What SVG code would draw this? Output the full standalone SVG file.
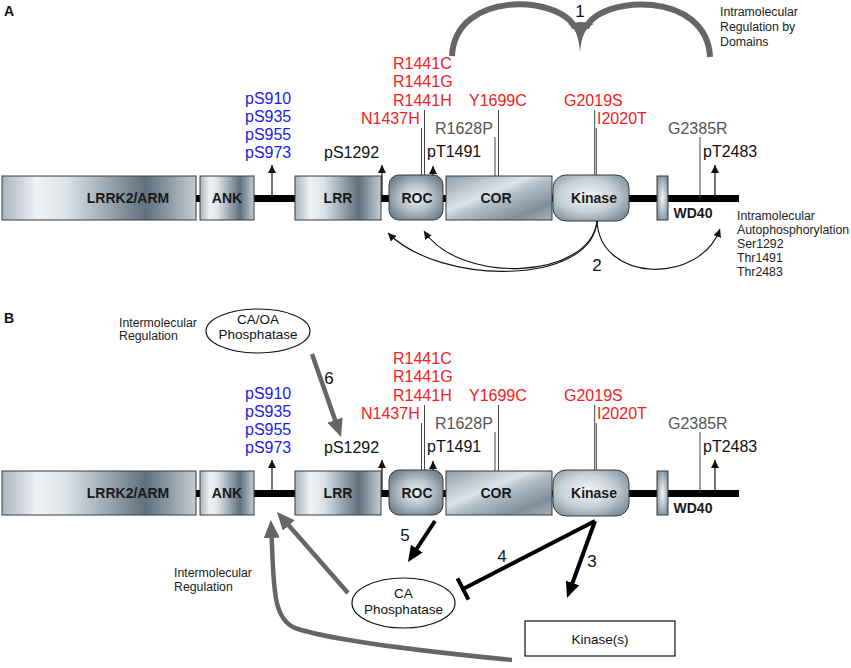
<svg xmlns="http://www.w3.org/2000/svg" width="851" height="668" viewBox="0 0 851 668">
<defs>
<linearGradient id="gH" x1="0" y1="0" x2="1" y2="0">
<stop offset="0" stop-color="#a9b5bf"/><stop offset="0.18" stop-color="#eef2f5"/><stop offset="0.33" stop-color="#dce3e8"/><stop offset="0.74" stop-color="#5f707e"/><stop offset="1" stop-color="#c3ccd3"/>
</linearGradient>
<linearGradient id="gD" x1="0" y1="0" x2="1" y2="1">
<stop offset="0" stop-color="#8e9daa"/><stop offset="0.4" stop-color="#dde4e8"/><stop offset="0.5" stop-color="#b8c3cb"/><stop offset="0.8" stop-color="#7e8e9b"/><stop offset="1" stop-color="#a7b3bc"/>
</linearGradient>
<radialGradient id="gR" cx="0.5" cy="0.5" r="0.6">
<stop offset="0" stop-color="#eef2f4"/><stop offset="0.5" stop-color="#b5c0c8"/><stop offset="1" stop-color="#6d7e8b"/>
</radialGradient>
<radialGradient id="gK" cx="0.45" cy="0.45" r="0.65">
<stop offset="0" stop-color="#f3f6f8"/><stop offset="0.55" stop-color="#c7d0d6"/><stop offset="1" stop-color="#7f8f9c"/>
</radialGradient>
<radialGradient id="gW" cx="0.5" cy="0.5" r="0.6">
<stop offset="0" stop-color="#f5f7f9"/><stop offset="1" stop-color="#7c8d9a"/>
</radialGradient>
<marker id="tri" markerUnits="userSpaceOnUse" markerWidth="8" markerHeight="8" refX="8" refY="4" orient="auto"><path d="M0,0 L8,4 L0,8 z" fill="#111"/></marker>
<marker id="bh" markerUnits="userSpaceOnUse" markerWidth="16" markerHeight="14" refX="4" refY="7" orient="auto"><path d="M0,0 L16,7 L0,14 z" fill="#000"/></marker>
<marker id="gh" markerUnits="userSpaceOnUse" markerWidth="18" markerHeight="16" refX="4" refY="8" orient="auto"><path d="M0,0 L18,8 L0,16 z" fill="#666"/></marker>
</defs>
<style>
.dom{stroke:#3a3a3a;stroke-width:1}
.dt{font-family:"Liberation Sans",Arial,sans-serif;font-weight:bold;font-size:14px;fill:#1a1a1a;text-anchor:middle}
.lb{font-family:"Liberation Sans",Arial,sans-serif;font-size:16px}
.blue{fill:#2020ee}.red{fill:#f52020}.gray{fill:#555}.blk{fill:#111}
.sm{font-family:"Liberation Sans",Arial,sans-serif;font-size:12.3px;fill:#222}
.num{font-family:"Liberation Sans",Arial,sans-serif;font-size:17px;fill:#111;text-anchor:middle}
.pl{font-family:"Liberation Sans",Arial,sans-serif;font-weight:bold;font-size:14px;fill:#111}
.mut{stroke:#444;stroke-width:1;fill:none}
.ph{stroke:#111;stroke-width:1.2;fill:none;marker-end:url(#tri)}
.thin{stroke:#111;stroke-width:1.1;fill:none;marker-end:url(#tri)}
.ba{stroke:#000;stroke-width:4;fill:none;marker-end:url(#bh)}
.ga{stroke:#666;stroke-width:4.5;fill:none;marker-end:url(#gh)}
.ell{fill:#fff;stroke:#111;stroke-width:1.2}
.et{font-family:"Liberation Sans",Arial,sans-serif;font-size:13.5px;fill:#111;text-anchor:middle}
</style>
<rect width="851" height="668" fill="#fff"/>

<text class="pl" x="4" y="16">A</text>
<text class="pl" x="4" y="323">B</text>

<!-- Panel A domains -->
<g id="A-backbone"><rect x="2" y="195" width="737" height="7" fill="#000"/></g>
<g id="A-lrrk2arm"><rect class="dom" x="2" y="176" width="194" height="44" fill="url(#gH)"/><text class="dt" x="128" y="203">LRRK2/ARM</text></g>
<g id="A-ank"><rect class="dom" x="200" y="176" width="54" height="44" fill="url(#gH)"/><text class="dt" x="227" y="203">ANK</text></g>
<g id="A-lrr"><rect class="dom" x="295" y="176" width="86" height="44" fill="url(#gH)"/><text class="dt" x="338" y="203">LRR</text></g>
<g id="A-roc"><rect class="dom" x="389" y="175" width="54" height="45" rx="10" fill="url(#gR)"/><text class="dt" x="417" y="203">ROC</text></g>
<g id="A-cor"><rect class="dom" x="446" y="176" width="106" height="44" fill="url(#gD)"/><text class="dt" x="496" y="203">COR</text></g>
<g id="A-kinase"><rect class="dom" x="553" y="175" width="76" height="46" rx="13" fill="url(#gK)"/><text class="dt" x="594" y="203">Kinase</text></g>
<g id="A-wd40"><rect class="dom" x="657" y="176" width="11" height="44" fill="url(#gW)"/><text class="dt" x="693" y="218">WD40</text></g>

<g id="A-labels">
<text class="lb blue" x="245" y="104">pS910</text>
<text class="lb blue" x="245" y="122">pS935</text>
<text class="lb blue" x="245" y="140">pS955</text>
<text class="lb blue" x="245" y="158">pS973</text>
<text class="lb blk" x="324" y="158">pS1292</text>
<text class="lb red" x="393" y="69">R1441C</text>
<text class="lb red" x="393" y="87">R1441G</text>
<text class="lb red" x="393" y="106">R1441H</text>
<text class="lb red" x="361" y="124">N1437H</text>
<text class="lb red" x="469" y="106">Y1699C</text>
<text class="lb red" x="564" y="106">G2019S</text>
<text class="lb red" x="597" y="124">I2020T</text>
<text class="lb gray" x="435" y="134">R1628P</text>
<text class="lb gray" x="668" y="134">G2385R</text>
<text class="lb blk" x="427" y="157">pT1491</text>
<text class="lb blk" x="703" y="157">pT2483</text>
<text class="sm" x="720" y="16">Intramolecular</text>
<text class="sm" x="720" y="31">Regulation by</text>
<text class="sm" x="720" y="46">Domains</text>
<text class="sm" x="737" y="220">Intramolecular</text>
<text class="sm" x="737" y="234">Autophosphorylation</text>
<text class="sm" x="737" y="248">Ser1292</text>
<text class="sm" x="737" y="262">Thr1491</text>
<text class="sm" x="737" y="276">Thr2483</text>
<text class="num" x="580" y="17">1</text>
<text class="num" x="597" y="271">2</text>
</g>

<g id="A-connectors">
<path class="mut" d="M421.5 128 V175 M424.5 110 V175 M495 137 V176 M498.5 110 V176 M594.7 110 V175 M596.3 128 V175 M700 137 V198"/>
<path class="ph" d="M272 198 V165"/>
<path class="ph" d="M382 198 V165"/>
<path class="ph" d="M433 175 V166"/>
<path class="ph" d="M715 198 V165"/>
<path class="thin" d="M597 221 C592 286, 440 286, 388 233"/>
<path class="thin" d="M597 221 C590 280, 460 285, 424 231"/>
<path class="thin" d="M597 221 C600 283, 700 285, 720 229"/>
<path d="M452 56 C455 -10, 560 -5, 575 28" stroke="#666" stroke-width="6" fill="none"/>
<path d="M710 57 C707 -10, 600 -5, 586 28" stroke="#666" stroke-width="6" fill="none"/>
<path d="M568 24 Q578 28 580 52 Q582 28 594 24 Q581 20 568 24 z" fill="#666"/>
</g>

<!-- Panel B domains -->
<g id="B-backbone"><rect x="2" y="490" width="737" height="7" fill="#000"/></g>
<g id="B-lrrk2arm"><rect class="dom" x="2" y="471" width="194" height="44" fill="url(#gH)"/><text class="dt" x="128" y="498">LRRK2/ARM</text></g>
<g id="B-ank"><rect class="dom" x="200" y="471" width="54" height="44" fill="url(#gH)"/><text class="dt" x="227" y="498">ANK</text></g>
<g id="B-lrr"><rect class="dom" x="295" y="471" width="86" height="44" fill="url(#gH)"/><text class="dt" x="338" y="498">LRR</text></g>
<g id="B-roc"><rect class="dom" x="389" y="470" width="54" height="45" rx="10" fill="url(#gR)"/><text class="dt" x="417" y="498">ROC</text></g>
<g id="B-cor"><rect class="dom" x="446" y="471" width="106" height="44" fill="url(#gD)"/><text class="dt" x="496" y="498">COR</text></g>
<g id="B-kinase"><rect class="dom" x="553" y="470" width="76" height="46" rx="13" fill="url(#gK)"/><text class="dt" x="594" y="498">Kinase</text></g>
<g id="B-wd40"><rect class="dom" x="657" y="471" width="11" height="44" fill="url(#gW)"/><text class="dt" x="693" y="513">WD40</text></g>

<g id="B-caoa"><ellipse class="ell" cx="258" cy="331" rx="52" ry="22"/><text class="et" x="258" y="324">CA/OA</text><text class="et" x="258" y="339">Phosphatase</text></g>
<g id="B-ca"><ellipse class="ell" cx="403.5" cy="603" rx="51.5" ry="25"/><text class="et" x="403.5" y="598">CA</text><text class="et" x="403.5" y="614">Phosphatase</text></g>
<g id="B-kinases"><rect x="525" y="621" width="150" height="35" fill="#fff" stroke="#111" stroke-width="1.2"/><text class="et" x="600" y="644">Kinase(s)</text></g>

<g id="B-labels">
<text class="lb blue" x="245" y="399">pS910</text>
<text class="lb blue" x="245" y="417">pS935</text>
<text class="lb blue" x="245" y="435">pS955</text>
<text class="lb blue" x="245" y="453">pS973</text>
<text class="lb blk" x="324" y="453">pS1292</text>
<text class="lb red" x="393" y="364">R1441C</text>
<text class="lb red" x="393" y="382">R1441G</text>
<text class="lb red" x="393" y="401">R1441H</text>
<text class="lb red" x="361" y="419">N1437H</text>
<text class="lb red" x="469" y="401">Y1699C</text>
<text class="lb red" x="564" y="401">G2019S</text>
<text class="lb red" x="597" y="419">I2020T</text>
<text class="lb gray" x="435" y="429">R1628P</text>
<text class="lb gray" x="668" y="429">G2385R</text>
<text class="lb blk" x="427" y="452">pT1491</text>
<text class="lb blk" x="703" y="452">pT2483</text>
<text class="sm" x="119" y="327">Intermolecular</text>
<text class="sm" x="119" y="340">Regulation</text>
<text class="sm" x="174" y="577">Intermolecular</text>
<text class="sm" x="174" y="591">Regulation</text>
<text class="num" x="329" y="384">6</text>
<text class="num" x="405" y="541">5</text>
<text class="num" x="502" y="562">4</text>
<text class="num" x="592" y="567">3</text>
</g>

<g id="B-connectors">
<path class="mut" d="M421.5 423 V470 M424.5 405 V470 M495 432 V471 M498.5 405 V471 M594.7 405 V470 M596.3 423 V470 M700 432 V493"/>
<path class="ph" d="M272 493 V460"/>
<path class="ph" d="M382 493 V460"/>
<path class="ph" d="M433 470 V461"/>
<path class="ph" d="M715 493 V460"/>
<path class="ga" d="M312 354 L336.4 423.8"/>
<path class="ba" d="M435 521 L414.6 552"/>
<path class="ba" d="M595 521 L571.1 586.7"/>
<path d="M595 521 L463 589 M457.5 578.3 L468.5 599.7" stroke="#000" stroke-width="4" fill="none"/>
<path class="ga" d="M348 593 L286.2 522.5"/>
<path class="ga" d="M512 660 C430 652, 330 640, 295 628 C272 618, 274 585, 271.5 534"/>
</g>
</svg>
